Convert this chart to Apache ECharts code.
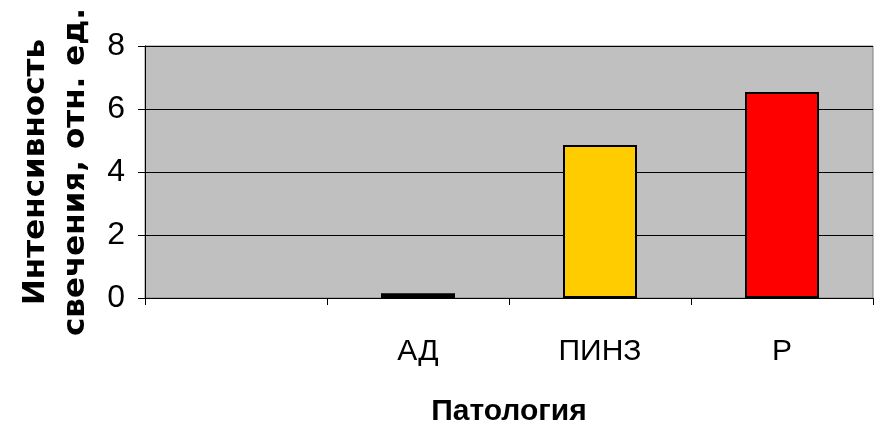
<!DOCTYPE html>
<html>
<head>
<meta charset="utf-8">
<script src="https://cdn.jsdelivr.net/npm/echarts@6/dist/echarts.min.js"></script>
<style>
html,body{margin:0;padding:0;background:#fff;}
#chart{width:875px;height:440px;}
</style>
</head>
<body>
<div id="chart"></div>
<script>
const categories = ['', 'АД', 'ПИНЗ', 'Р'];
const values = [null, 0.15, 4.86, 6.54];
const barColors = ['#000000', '#000000', '#FFCC00', '#FF0000'];
const yTicks = [0, 2, 4, 6, 8];
const xTitle = 'Патология';
const yTitleLines = ['Интенсивность', 'свечения, отн. ед.'];

const narrow = "'Liberation Sans Narrow', 'Liberation Sans', Arial, sans-serif";

const chart = echarts.init(document.getElementById('chart'), null, {renderer: 'canvas'});
chart.setOption({
  animation: false,
  backgroundColor: '#ffffff',
  grid: {
    left: 145, right: 2, top: 46, bottom: 142,
    show: true, backgroundColor: '#C0C0C0', borderColor: '#808080', borderWidth: 1
  },
  xAxis: {
    type: 'category',
    data: categories,
    axisLine: {lineStyle: {color: '#000', width: 1}},
    axisTick: {show: true, length: 7, lineStyle: {color: '#000'}},
    axisLabel: {color: '#000', fontFamily: narrow, fontSize: 30, margin: 39},
    name: xTitle,
    nameLocation: 'middle',
    nameGap: 99,
    nameTextStyle: {color: '#000', fontFamily: narrow, fontWeight: 'bold', fontSize: 30}
  },
  yAxis: {
    type: 'value',
    min: yTicks[0], max: yTicks[yTicks.length - 1], interval: 2,
    axisLine: {show: true, lineStyle: {color: '#000', width: 1}},
    axisTick: {show: true, length: 7, lineStyle: {color: '#000'}},
    splitLine: {show: true, lineStyle: {color: '#000', width: 1}},
    axisLabel: {color: '#000', fontFamily: narrow, fontSize: 32, margin: 20},
    name: yTitleLines.join('\n'),
    nameLocation: 'middle',
    nameRotate: 90,
    nameGap: 45,
    nameTextStyle: {color: '#000', fontFamily: "'DejaVu Sans', sans-serif", fontWeight: 'bold', fontSize: 31, lineHeight: 40}
  },
  series: [{
    type: 'bar',
    data: values.map((v, i) => ({value: v, itemStyle: {color: barColors[i]}})),
    barWidth: 74,
    itemStyle: {borderColor: '#000', borderWidth: 2}
  }]
});
</script>
</body>
</html>
